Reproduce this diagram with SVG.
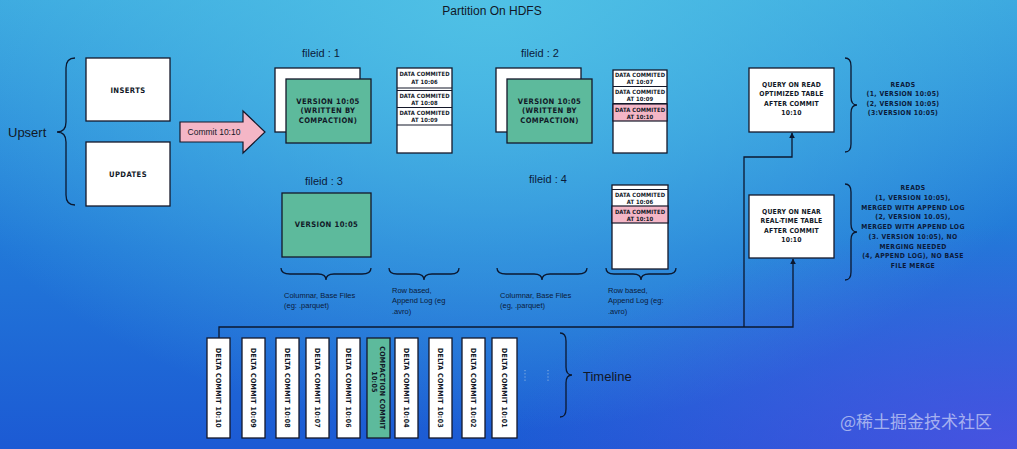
<svg xmlns="http://www.w3.org/2000/svg" width="1017" height="449" viewBox="0 0 1017 449">
<defs>
<linearGradient id="bg" x1="0" y1="0" x2="0" y2="1">
<stop offset="0" stop-color="#3aa6df"/>
<stop offset="0.55" stop-color="#2178d8"/>
<stop offset="1" stop-color="#1c5ad4"/>
</linearGradient>
<radialGradient id="hl" cx="0.48" cy="0" r="0.6" gradientTransform="scale(1,1.6)">
<stop offset="0" stop-color="#52c4e6" stop-opacity="0.9"/>
<stop offset="1" stop-color="#52c4e6" stop-opacity="0"/>
</radialGradient>
<radialGradient id="pu" cx="1" cy="1" r="0.5">
<stop offset="0" stop-color="#5a4fe6" stop-opacity="0.7"/>
<stop offset="1" stop-color="#5a4fe6" stop-opacity="0"/>
</radialGradient>
<marker id="ah" viewBox="0 0 10 10" refX="9" refY="5" markerWidth="6" markerHeight="6" orient="auto" markerUnits="userSpaceOnUse">
<path d="M0,0 L10,5 L0,10 z" fill="#0b1830"/>
</marker>
<style>
.box{fill:#fff;stroke:#14182a;stroke-width:1.3}
.grn{fill:#5dba9c;stroke:#14182a;stroke-width:1.3}
.pnk{fill:#f4b6c6;stroke:#14182a;stroke-width:1.2}
.ln{stroke:#14182a;stroke-width:1.2;fill:none}
.br{stroke:#0b1830;stroke-width:1.3;fill:none}
.con{stroke:#0b1830;stroke-width:1.3;fill:none}
.t{font-family:"Liberation Sans",Arial,sans-serif;fill:#111827}
.cap{font-family:"DejaVu Sans Condensed","DejaVu Sans",sans-serif;font-weight:bold;fill:#111827;text-anchor:middle}
.c7{font-size:7.6px;letter-spacing:0.4px}
.c6{font-size:5.8px;letter-spacing:0.1px}
.c65{font-size:6.8px;letter-spacing:0.2px}
.lbl{font-family:"Liberation Sans",Arial,sans-serif;font-size:7.5px;fill:#0b1a3a}
.fid{font-family:"Liberation Sans",Arial,sans-serif;font-size:11px;fill:#0b1a3a}
.rd{font-family:"DejaVu Sans Condensed","DejaVu Sans",sans-serif;font-weight:bold;font-size:6.8px;letter-spacing:0.35px;fill:#0b1a3a;text-anchor:middle}
.tl{font-family:"DejaVu Sans Condensed","DejaVu Sans",sans-serif;font-weight:bold;font-size:7px;letter-spacing:0.3px;fill:#111827;text-anchor:middle}
</style>
</defs>
<rect width="1017" height="449" fill="url(#bg)"/>
<rect width="1017" height="449" fill="url(#hl)"/>
<rect width="1017" height="449" fill="url(#pu)"/>

<text class="t" x="492" y="15" font-size="12" text-anchor="middle" fill="#0b1a3a">Partition On HDFS</text>

<g id="upsert">
<text class="t" x="8" y="137" font-size="13">Upsert</text>
<path class="br" d="M75,58 Q66,58 66,68 L66,122 Q66,132 57,132 Q66,132 66,142 L66,195 Q66,205 75,205"/>
</g>
<g id="inserts">
<rect class="box" x="86" y="58" width="84" height="63"/>
<text class="cap c7" x="128" y="93">INSERTS</text>
</g>
<g id="updates">
<rect class="box" x="86" y="142" width="84" height="64"/>
<text class="cap c7" x="128" y="177">UPDATES</text>
</g>
<g id="commit">
<polygon points="180,122 243,122 243,111 265,132 243,153 243,142 180,142" fill="#f4b6c6" stroke="#14182a" stroke-width="1.2"/>
<text class="t" x="214" y="135" font-size="8.5" text-anchor="middle">Commit 10:10</text>
</g>

<g id="fileid1">
<text class="fid" x="302" y="57">fileid : 1</text>
<rect class="box" x="275" y="68" width="85" height="64"/>
<rect class="grn" x="286" y="79" width="85" height="64"/>
<text class="cap c7" x="328" y="104">VERSION 10:05</text>
<text class="cap c7" x="328" y="113">(WRITTEN BY</text>
<text class="cap c7" x="328" y="123">COMPACTION)</text>
</g>
<g id="log1">
<rect class="box" x="397" y="68" width="55" height="85"/>
<path class="ln" d="M397,88 H452 M397,90.5 H452 M397,107.5 H452 M397,125 H452"/>
<text class="cap c6" x="424.5" y="76">DATA COMMITED</text>
<text class="cap c6" x="424.5" y="84">AT 10:06</text>
<text class="cap c6" x="424.5" y="98">DATA COMMITED</text>
<text class="cap c6" x="424.5" y="105">AT 10:08</text>
<text class="cap c6" x="424.5" y="115">DATA COMMITED</text>
<text class="cap c6" x="424.5" y="122">AT 10:09</text>
</g>

<g id="fileid2">
<text class="fid" x="521" y="57">fileid : 2</text>
<rect class="box" x="496" y="68" width="85" height="64"/>
<rect class="grn" x="507" y="79" width="85" height="64"/>
<text class="cap c7" x="549.5" y="104">VERSION 10:05</text>
<text class="cap c7" x="549.5" y="113">(WRITTEN BY</text>
<text class="cap c7" x="549.5" y="123">COMPACTION)</text>
</g>
<g id="log2">
<rect class="box" x="613" y="70" width="54" height="83"/>
<rect class="pnk" x="613" y="104" width="54" height="17"/>
<path class="ln" d="M613,86.5 H667 M613,103.5 H667" stroke-width="1.6"/>
<text class="cap c6" x="640" y="77">DATA COMMITED</text>
<text class="cap c6" x="640" y="84">AT 10:07</text>
<text class="cap c6" x="640" y="94">DATA COMMITED</text>
<text class="cap c6" x="640" y="101">AT 10:09</text>
<text class="cap c6" x="640" y="112">DATA COMMITED</text>
<text class="cap c6" x="640" y="119">AT 10:10</text>
</g>

<g id="fileid3">
<text class="fid" x="305" y="185">fileid : 3</text>
<rect class="grn" x="282" y="193" width="89" height="64"/>
<text class="cap c7" x="326.5" y="227">VERSION 10:05</text>
</g>
<g id="fileid4">
<text class="fid" x="529" y="183">fileid : 4</text>
</g>
<g id="log4">
<rect class="box" x="612" y="185" width="56" height="84"/>
<rect class="pnk" x="612" y="206" width="56" height="17"/>
<path class="ln" d="M612,189.5 H668" stroke-width="1.6"/>
<text class="cap c6" x="640" y="197">DATA COMMITED</text>
<text class="cap c6" x="640" y="204">AT 10:06</text>
<text class="cap c6" x="640" y="214">DATA COMMITED</text>
<text class="cap c6" x="640" y="221">AT 10:10</text>
</g>

<g id="braces-bottom">
<path class="br" d="M281,268 Q281,274 290,274 L318,274 Q326,274 326,280 Q326,274 334,274 L362,274 Q371,274 371,268"/>
<path class="br" d="M389,268 Q389,274 397,274 L416,274 Q424,274 424,280 Q424,274 432,274 L451,274 Q459,274 459,268"/>
<path class="br" d="M497,268 Q497,274 506,274 L534,274 Q542,274 542,280 Q542,274 550,274 L578,274 Q587,274 587,268"/>
<path class="br" d="M606,268 Q606,274 614,274 L633,274 Q641,274 641,280 Q641,274 649,274 L668,274 Q676,274 676,268"/>
</g>
<g id="labels">
<text class="lbl" x="284" y="298">Columnar, Base Files</text>
<text class="lbl" x="284" y="308">(eg: .parquet)</text>
<text class="lbl" x="392" y="293">Row based,</text>
<text class="lbl" x="392" y="303">Append Log (eg</text>
<text class="lbl" x="392" y="314">.avro)</text>
<text class="lbl" x="500" y="298">Columnar, Base Files</text>
<text class="lbl" x="500" y="308">(eg, .parquet)</text>
<text class="lbl" x="608" y="293">Row based,</text>
<text class="lbl" x="608" y="303">Append Log (eg:</text>
<text class="lbl" x="608" y="314">.avro)</text>
</g>

<g id="query-ro">
<rect class="box" x="749" y="68" width="85" height="64"/>
<text class="cap c65" x="791.5" y="87">QUERY ON READ</text>
<text class="cap c65" x="791.5" y="96">OPTIMIZED TABLE</text>
<text class="cap c65" x="791.5" y="106">AFTER COMMIT</text>
<text class="cap c65" x="791.5" y="115">10:10</text>
</g>
<g id="reads-ro">
<path class="br" d="M845,58 Q851,58 851,66 L851,97 Q851,105 857,105 Q851,105 851,113 L851,144 Q851,152 845,152"/>
<text class="rd" x="903" y="87">READS</text>
<text class="rd" x="903" y="96">(1, VERSION 10:05)</text>
<text class="rd" x="903" y="105.5">(2, VERSION 10:05)</text>
<text class="rd" x="903" y="115">(3:VERSION 10:05)</text>
</g>
<g id="query-rt">
<rect class="box" x="749" y="195" width="85" height="63"/>
<text class="cap c65" x="791.5" y="214">QUERY ON NEAR</text>
<text class="cap c65" x="791.5" y="223">REAL-TIME TABLE</text>
<text class="cap c65" x="791.5" y="233">AFTER COMMIT</text>
<text class="cap c65" x="791.5" y="242">10:10</text>
</g>
<g id="reads-rt">
<path class="br" d="M845,184 Q851,184 851,192 L851,224 Q851,232 857,232 Q851,232 851,240 L851,272 Q851,280 845,280"/>
<text class="rd" x="913" y="190">READS</text>
<text class="rd" x="913" y="199.8">(1, VERSION 10:05),</text>
<text class="rd" x="913" y="209.5">MERGED WITH APPEND LOG</text>
<text class="rd" x="913" y="219.3">(2, VERSION 10.05),</text>
<text class="rd" x="913" y="229">MERGED WITH APPEND LOG</text>
<text class="rd" x="913" y="238.8">(3. VERSION 10:05), NO</text>
<text class="rd" x="913" y="248.5">MERGING NEEDED</text>
<text class="rd" x="913" y="258.3">(4, APPEND LOG), NO BASE</text>
<text class="rd" x="913" y="268">FILE MERGE</text>
</g>

<g id="connectors">
<path class="con" d="M219,338 V327 H793 V259" marker-end="url(#ah)"/>
<path class="con" d="M744,327 V157 H792 V133" marker-end="url(#ah)"/>
</g>

<g id="timeline">
<g id="tl1"><rect class="box" x="207" y="338" width="23" height="100"/><text class="tl" transform="translate(218.5,388) rotate(90)" y="2.4">DELTA COMMIT  10:10</text></g>
<g id="tl2"><rect class="box" x="242" y="338" width="23" height="100"/><text class="tl" transform="translate(253.5,388) rotate(90)" y="2.4">DELTA COMMIT  10:09</text></g>
<g id="tl3"><rect class="box" x="276" y="338" width="23" height="100"/><text class="tl" transform="translate(287.5,388) rotate(90)" y="2.4">DELTA COMMIT  10:08</text></g>
<g id="tl4"><rect class="box" x="306" y="338" width="23" height="100"/><text class="tl" transform="translate(317.5,388) rotate(90)" y="2.4">DELTA COMMIT  10:07</text></g>
<g id="tl5"><rect class="box" x="337" y="338" width="23" height="100"/><text class="tl" transform="translate(348.5,388) rotate(90)" y="2.4">DELTA COMMIT  10:06</text></g>
<g id="tl6"><rect class="grn" x="367" y="338" width="23" height="100"/><text class="tl" transform="translate(378.5,388) rotate(90)" y="-1.5">COMPACTION COMMIT</text><text class="tl" transform="translate(378.5,388) rotate(90)" y="6.5" x="-6">10:05</text></g>
<g id="tl7"><rect class="box" x="395" y="338" width="23" height="100"/><text class="tl" transform="translate(406.5,388) rotate(90)" y="2.4">DELTA COMMIT  10:04</text></g>
<g id="tl8"><rect class="box" x="429" y="338" width="23" height="100"/><text class="tl" transform="translate(440.5,388) rotate(90)" y="2.4">DELTA COMMIT  10:03</text></g>
<g id="tl9"><rect class="box" x="462" y="338" width="23" height="100"/><text class="tl" transform="translate(473.5,388) rotate(90)" y="2.4">DELTA COMMIT  10:02</text></g>
<g id="tl10"><rect class="box" x="492" y="338" width="25" height="100"/><text class="tl" transform="translate(504.5,388) rotate(90)" y="2.4">DELTA COMMIT  10:01</text></g>
<path d="M525,370 V381 M548,370 V381" stroke="#8fb4e0" stroke-width="1" stroke-dasharray="1.2,2" fill="none"/>
<path class="br" d="M560,333 Q566,333 566,341 L566,367 Q566,375 572,375 Q566,375 566,383 L566,409 Q566,417 560,417"/>
<text class="t" x="583" y="381" font-size="13" fill="#0b1a3a">Timeline</text>
</g>

<text x="840" y="428" font-family="'Noto Sans CJK SC',sans-serif" font-size="17" fill="#ffffff" fill-opacity="0.55">@稀土掘金技术社区</text>
</svg>
